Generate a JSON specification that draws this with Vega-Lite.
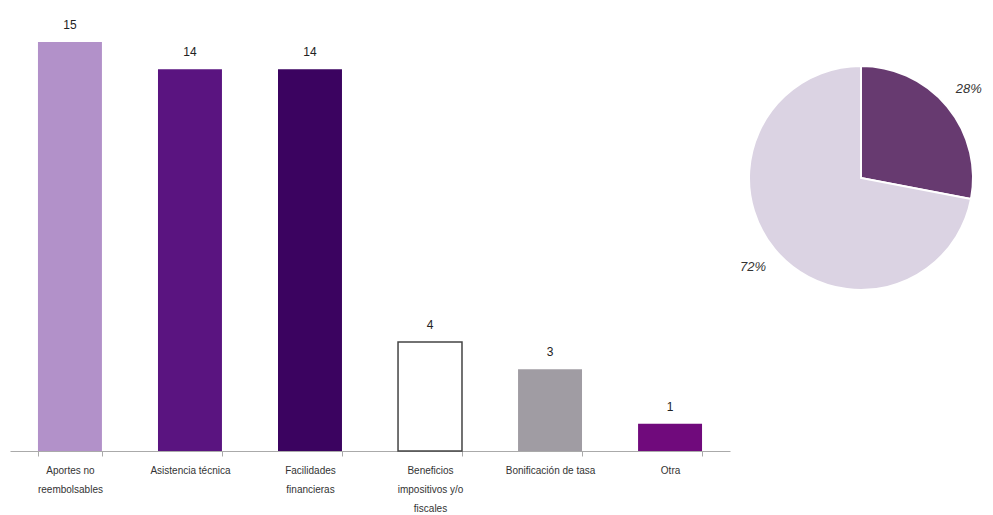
{
  "$schema": "https://vega.github.io/schema/vega-lite/v6.json",
  "padding": {"left": 10, "top": 19, "right": 0, "bottom": 0},
  "background": "white",
  "config": {"view": {"stroke": null}, "font": "Liberation Sans"},
  "spacing": 10,
  "resolve": {"scale": {"color": "independent"}},
  "hconcat": [
    {
      "width": 720,
      "height": 409,
      "data": {"values": [
        {"cat": "Aportes no reembolsables", "n": 15},
        {"cat": "Asistencia técnica", "n": 14},
        {"cat": "Facilidades financieras", "n": 14},
        {"cat": "Beneficios impositivos y/o fiscales", "n": 4},
        {"cat": "Bonificación de tasa", "n": 3},
        {"cat": "Otra", "n": 1}
      ]},
      "encoding": {
        "x": {"field": "cat", "type": "nominal", "sort": null,
          "scale": {"paddingInner": 0.467, "paddingOuter": 0.233},
          "axis": {"title": null, "labelAngle": 0, "domainColor": "#aaaaaa", "tickColor": "#aaaaaa", "tickSize": 5, "tickBand": "extent",
            "labelFontSize": 10, "labelColor": "#333333", "labelPadding": 9, "labelLineHeight": 19, "labelFont": "Liberation Sans",
            "labelExpr": "datum.value == 'Aportes no reembolsables' ? ['Aportes no', 'reembolsables'] : datum.value == 'Facilidades financieras' ? ['Facilidades', 'financieras'] : datum.value == 'Beneficios impositivos y/o fiscales' ? ['Beneficios', 'impositivos y/o', 'fiscales'] : datum.value"}},
        "y": {"field": "n", "type": "quantitative", "scale": {"domain": [0, 15], "nice": false}, "axis": null}
      },
      "layer": [
        {
          "mark": {"type": "bar", "stroke": "#444444"},
          "encoding": {
            "color": {"field": "cat", "type": "nominal", "legend": null,
              "scale": {"domain": ["Aportes no reembolsables", "Asistencia técnica", "Facilidades financieras", "Beneficios impositivos y/o fiscales", "Bonificación de tasa", "Otra"],
                "range": ["#b291c9", "#5a1480", "#3b0360", "#ffffff", "#a09ca3", "#700a7c"]}},
            "strokeWidth": {"condition": {"test": "datum.cat == 'Beneficios impositivos y/o fiscales'", "value": 1.5}, "value": 0}
          }
        },
        {
          "mark": {"type": "text", "baseline": "bottom", "dy": -10, "fontSize": 12, "color": "#222222"},
          "encoding": {"text": {"field": "n", "type": "quantitative"}}
        }
      ]
    },
    {
      "width": 240,
      "height": 272,
      "data": {"values": [
        {"k": "a", "p": 28, "label": "28%"},
        {"k": "b", "p": 72, "label": "72%"}
      ]},
      "encoding": {
        "theta": {"field": "p", "type": "quantitative", "stack": true}
      },
      "layer": [
        {
          "mark": {"type": "arc", "outerRadius": 112, "stroke": "white", "strokeWidth": 2},
          "encoding": {
            "color": {"field": "k", "type": "nominal", "legend": null, "sort": null,
              "scale": {"domain": ["a", "b"], "range": ["#673a70", "#dbd3e3"]}},
            "order": {"field": "k"}
          }
        },
        {
          "mark": {"type": "text", "radius": 140, "fontSize": 13, "fontStyle": "italic", "color": "#333333"},
          "encoding": {
            "text": {"field": "label"},
            "order": {"field": "k"}
          }
        }
      ]
    }
  ]
}
